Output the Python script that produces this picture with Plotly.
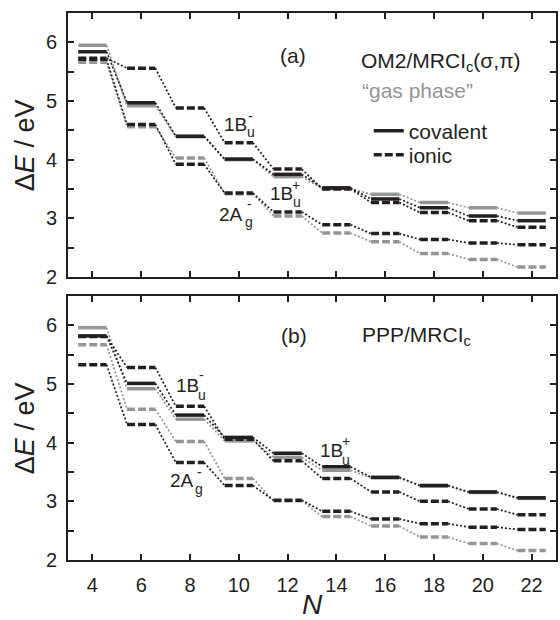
import plotly.graph_objects as go

# ---------------- data ----------------
N = [4, 6, 8, 10, 12, 14, 16, 18, 20, 22]

# panel (a): OM2/MRCIc(sigma,pi)
a_black_upper = [5.73, 5.56, 4.88, 4.29, 3.84, 3.50, 3.27, 3.10, 2.96, 2.85]   # dashed
a_black_solid = [5.84, 4.97, 4.40, 4.01, 3.75, 3.52, 3.33, 3.18, 3.04, 2.96]   # solid
a_black_lower = [5.71, 4.60, 3.92, 3.43, 3.11, 2.89, 2.74, 2.64, 2.58, 2.55]   # dashed
a_gray_solid = [5.95, 4.92, 4.39, 4.00, 3.71, 3.51, 3.41, 3.27, 3.18, 3.09]    # solid (gas phase)
a_gray_lower = [5.66, 4.56, 4.03, 3.42, 3.04, 2.75, 2.60, 2.40, 2.30, 2.17]    # dashed (gas phase)

# panel (b): PPP/MRCIc
b_black_upper = [5.81, 5.28, 4.62, 4.06, 3.69, 3.39, 3.16, 3.00, 2.87, 2.77]
b_black_solid = [5.82, 5.01, 4.47, 4.09, 3.82, 3.59, 3.41, 3.27, 3.16, 3.06]
b_black_lower = [5.33, 4.31, 3.66, 3.27, 3.02, 2.83, 2.70, 2.62, 2.56, 2.52]
b_gray_solid = [5.96, 4.92, 4.40, 4.03, 3.75, 3.53, 3.40, 3.26, 3.15, 3.05]
b_gray_lower = [5.67, 4.57, 4.02, 3.39, 3.01, 2.74, 2.58, 2.39, 2.28, 2.16]

x_ticks = [4, 6, 8, 10, 12, 14, 16, 18, 20, 22]
y_ticks = [2, 2.5, 3, 3.5, 4, 4.5, 5, 5.5, 6]
y_ticktext = ["2", " ", "3", " ", "4", " ", "5", " ", "6"]

# ---------------- style ----------------
BLACK = "#231f20"
GRAY = "#939598"
FONT = "Liberation Sans, Arial, Helvetica, sans-serif"
HW = 0.58          # half width of level segment (in N units)
SEG_W = 3.5
DASH = "8px,3px"
DOT_W = 1.7
DOT = "2px,2px"


def seg_xy(ns, es):
    xs, ys = [], []
    for n, e in zip(ns, es):
        xs += [n - HW, n + HW, None]
        ys += [e, e, None]
    return xs, ys


def conn_xy(ns, es):
    xs, ys = [], []
    for i in range(len(ns) - 1):
        xs += [ns[i] + HW, ns[i + 1] - HW, None]
        ys += [es[i], es[i + 1], None]
    return xs, ys


fig = go.Figure()


def add_series(es, color, dashed, xa, ya):
    cx, cy = conn_xy(N, es)
    fig.add_trace(go.Scatter(x=cx, y=cy, mode="lines", xaxis=xa, yaxis=ya,
                             line=dict(color=color, width=DOT_W, dash=DOT),
                             showlegend=False, hoverinfo="skip"))
    sx, sy = seg_xy(N, es)
    fig.add_trace(go.Scatter(x=sx, y=sy, mode="lines", xaxis=xa, yaxis=ya,
                             line=dict(color=color, width=SEG_W,
                                       dash=DASH if dashed else "solid"),
                             showlegend=False, hoverinfo="skip"))


# panel (a) -> x2/y2 (top)
add_series(a_gray_solid, GRAY, False, "x2", "y2")
add_series(a_gray_lower, GRAY, True, "x2", "y2")
add_series(a_black_upper, BLACK, True, "x2", "y2")
add_series(a_black_lower, BLACK, True, "x2", "y2")
add_series(a_black_solid, BLACK, False, "x2", "y2")

# panel (b) -> x/y (bottom)
add_series(b_gray_solid, GRAY, False, "x", "y")
add_series(b_gray_lower, GRAY, True, "x", "y")
add_series(b_black_upper, BLACK, True, "x", "y")
add_series(b_black_lower, BLACK, True, "x", "y")
add_series(b_black_solid, BLACK, False, "x", "y")

# legend entries
fig.add_trace(go.Scatter(x=[None], y=[None], mode="lines", name="covalent",
                         line=dict(color=BLACK, width=SEG_W), xaxis="x2", yaxis="y2",
                         legend="legend", showlegend=True))
fig.add_trace(go.Scatter(x=[None], y=[None], mode="lines", name="ionic",
                         line=dict(color=BLACK, width=SEG_W, dash=DASH), xaxis="x2", yaxis="y2",
                         legend="legend2", showlegend=True))

# ---------------- axes ----------------
L, R, T, B = 68, 2, 13, 60
W, H = 560, 620
ph = H - T - B
gap = 19 / ph
d_b = [0, (1 - gap) / 2]
d_a = [(1 + gap) / 2, 1]

common_ax = dict(showline=True, linewidth=2, linecolor=BLACK, mirror="ticks",
                 ticks="inside", ticklen=6, tickwidth=1.5, tickcolor=BLACK,
                 showgrid=False, zeroline=False,
                 tickfont=dict(family=FONT, size=20, color=BLACK))

fig.update_layout(
    xaxis=dict(domain=[0, 1], anchor="y", range=[3, 23], tickvals=x_ticks,
               ticklabelstandoff=6, **common_ax),
    yaxis=dict(domain=d_b, anchor="x", range=[2, 6.5], tickvals=y_ticks,
               ticktext=y_ticktext, ticklabelstandoff=5, **common_ax),
    xaxis2=dict(domain=[0, 1], anchor="y2", range=[3, 23], tickvals=x_ticks,
                showticklabels=False, matches="x", **common_ax),
    yaxis2=dict(domain=d_a, anchor="x2", range=[2, 6.5], tickvals=y_ticks,
                ticktext=y_ticktext, ticklabelstandoff=5, **common_ax),
)


def px_x(p):
    return (p - L) / (W - L - R)


def px_y(p):
    return 1 - (p - T) / ph


legend_common = dict(xanchor="left", yanchor="middle", bgcolor="rgba(0,0,0,0)",
                     font=dict(family=FONT, size=21, color=BLACK),
                     itemwidth=30, tracegroupgap=0)
fig.update_layout(
    legend=dict(x=px_x(370), y=px_y(131), **legend_common),
    legend2=dict(x=px_x(370), y=px_y(155), **legend_common),
)

ann = []


def txt(x, y, s, xref, yref, size=19, color=BLACK, xanchor="left", yanchor="middle",
        angle=0):
    ann.append(dict(x=x, y=y, xref=xref, yref=yref, text=s, showarrow=False,
                    xanchor=xanchor, yanchor=yanchor, textangle=angle,
                    font=dict(family=FONT, size=size, color=color)))


SUB = 14
# panel (a) texts
txt(12.22, 5.78, "(a)", "x2", "y2", size=21, xanchor="center")
txt(14.92, 5.66, "OM2/MRCI<sub>c</sub>(σ,π)", "x2", "y2", size=21)
txt(14.95, 5.18, "“gas phase”", "x2", "y2", size=21, color=GRAY)
# 1Bu-
txt(9.33, 4.60, "1B", "x2", "y2")
txt(10.24, 4.47, "u", "x2", "y2", size=SUB)
txt(10.30, 4.74, "-", "x2", "y2", size=SUB)
# 1Bu+
txt(11.20, 3.43, "1B", "x2", "y2")
txt(12.12, 3.27, "u", "x2", "y2", size=SUB)
txt(12.08, 3.57, "+", "x2", "y2", size=SUB)
# 2Ag-
txt(9.12, 3.07, "2A", "x2", "y2")
txt(10.18, 2.93, "g", "x2", "y2", size=SUB)
txt(10.24, 3.25, "-", "x2", "y2", size=SUB)

# panel (b) texts
txt(12.27, 5.82, "(b)", "x", "y", size=21, xanchor="center")
txt(14.95, 5.82, "PPP/MRCI<sub>c</sub>", "x", "y", size=21)
# 1Bu-
txt(7.33, 4.98, "1B", "x", "y")
txt(8.24, 4.82, "u", "x", "y", size=SUB)
txt(8.30, 5.15, "-", "x", "y", size=SUB)
# 2Ag-
txt(7.08, 3.35, "2A", "x", "y")
txt(8.14, 3.21, "g", "x", "y", size=SUB)
txt(8.20, 3.50, "-", "x", "y", size=SUB)
# 1Bu+
txt(13.24, 3.86, "1B", "x", "y")
txt(14.16, 3.71, "u", "x", "y", size=SUB)
txt(14.14, 4.02, "+", "x", "y", size=SUB)

# axis titles
txt(px_x(25), 0.5, "Δ<i>E</i> / eV", "paper", "y2 domain", size=27,
    xanchor="center", angle=-90)
txt(px_x(25), 0.5, "Δ<i>E</i> / eV", "paper", "y domain", size=27,
    xanchor="center", angle=-90)
txt(0.5, px_y(604), "<i>N</i>", "paper", "paper", size=28, xanchor="center")

fig.update_layout(
    annotations=ann,
    width=W, height=H,
    margin=dict(l=L, r=R, t=T, b=B, pad=0),
    paper_bgcolor="white", plot_bgcolor="white",
    font=dict(family=FONT, color=BLACK),
)

fig.write_html("out.html", config={"displayModeBar": False},
               post_script="document.body.style.margin='0';"
                           "document.body.style.overflow='hidden';")
